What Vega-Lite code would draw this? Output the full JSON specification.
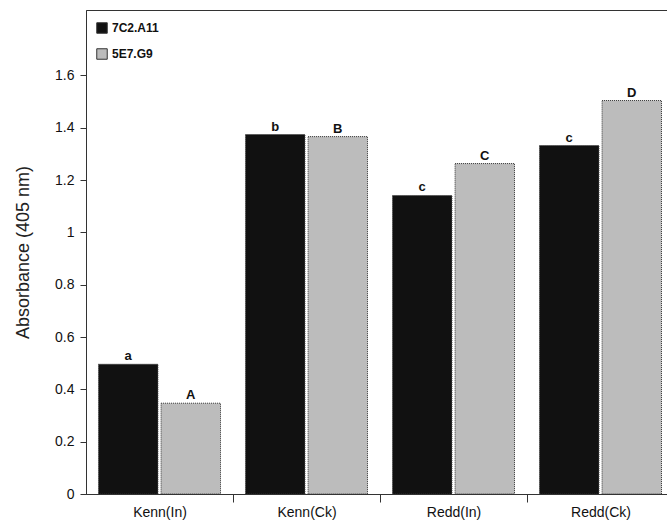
{
  "$schema": "https://vega.github.io/schema/vega-lite/v6.json",
  "width": 588,
  "height": 484,
  "autosize": {"type": "none"},
  "padding": {"left": 86, "top": 10, "right": 0, "bottom": 30},
  "background": "white",
  "config": {
    "font": "Liberation Sans",
    "view": {"stroke": "#333", "strokeWidth": 1}
  },
  "data": {
    "values": [
      {"group": "Kenn(In)", "series": "7C2.A11", "value": 0.496, "letter": "a"},
      {"group": "Kenn(In)", "series": "5E7.G9", "value": 0.347, "letter": "A"},
      {"group": "Kenn(Ck)", "series": "7C2.A11", "value": 1.374, "letter": "b"},
      {"group": "Kenn(Ck)", "series": "5E7.G9", "value": 1.366, "letter": "B"},
      {"group": "Redd(In)", "series": "7C2.A11", "value": 1.141, "letter": "c"},
      {"group": "Redd(In)", "series": "5E7.G9", "value": 1.263, "letter": "C"},
      {"group": "Redd(Ck)", "series": "7C2.A11", "value": 1.332, "letter": "c"},
      {"group": "Redd(Ck)", "series": "5E7.G9", "value": 1.504, "letter": "D"}
    ]
  },
  "encoding": {
    "x": {
      "field": "group",
      "type": "nominal",
      "sort": ["Kenn(In)", "Kenn(Ck)", "Redd(In)", "Redd(Ck)"],
      "scale": {"paddingInner": 0.17, "paddingOuter": 0.085},
      "axis": {
        "title": null,
        "labelAngle": 0,
        "labelFontSize": 14,
        "labelColor": "#111",
        "labelPadding": 3,
        "tickOffset": 73.5,
        "labelOffset": -73.5,
        "tickSize": 8,
        "tickColor": "#333",
        "domainColor": "#333",
        "domain": true
      }
    },
    "xOffset": {
      "field": "series",
      "type": "nominal",
      "sort": ["7C2.A11", "5E7.G9"],
      "scale": {"paddingInner": 0.05}
    },
    "y": {
      "field": "value",
      "type": "quantitative",
      "scale": {"domain": [0, 1.85], "nice": false},
      "axis": {
        "title": "Absorbance (405 nm)",
        "titleFontSize": 18,
        "titleFontWeight": "normal",
        "titleColor": "#222",
        "titlePadding": 22,
        "values": [0, 0.2, 0.4, 0.6, 0.8, 1, 1.2, 1.4, 1.6],
        "format": "~g",
        "labelFontSize": 14,
        "labelColor": "#111",
        "labelPadding": 6,
        "tickSize": 6,
        "tickColor": "#333",
        "domainColor": "#333",
        "grid": false
      }
    }
  },
  "layer": [
    {
      "mark": {"type": "bar", "stroke": "#333", "strokeWidth": 1, "strokeDash": [1, 1]},
      "encoding": {
        "color": {
          "field": "series",
          "type": "nominal",
          "sort": ["7C2.A11", "5E7.G9"],
          "scale": {"domain": ["7C2.A11", "5E7.G9"], "range": ["#111111", "#bcbcbc"]},
          "legend": {
            "title": null,
            "orient": "none",
            "legendX": 10,
            "legendY": 12,
            "symbolType": "square",
            "symbolSize": 110,
            "symbolStrokeColor": "#333",
            "symbolStrokeWidth": 1,
            "labelFontSize": 12,
            "labelFontWeight": "bold",
            "labelColor": "#111",
            "rowPadding": 10
          }
        }
      }
    },
    {
      "mark": {"type": "text", "dy": -8, "fontSize": 13, "fontWeight": "bold", "color": "#111"},
      "encoding": {
        "text": {"field": "letter"}
      }
    }
  ]
}
